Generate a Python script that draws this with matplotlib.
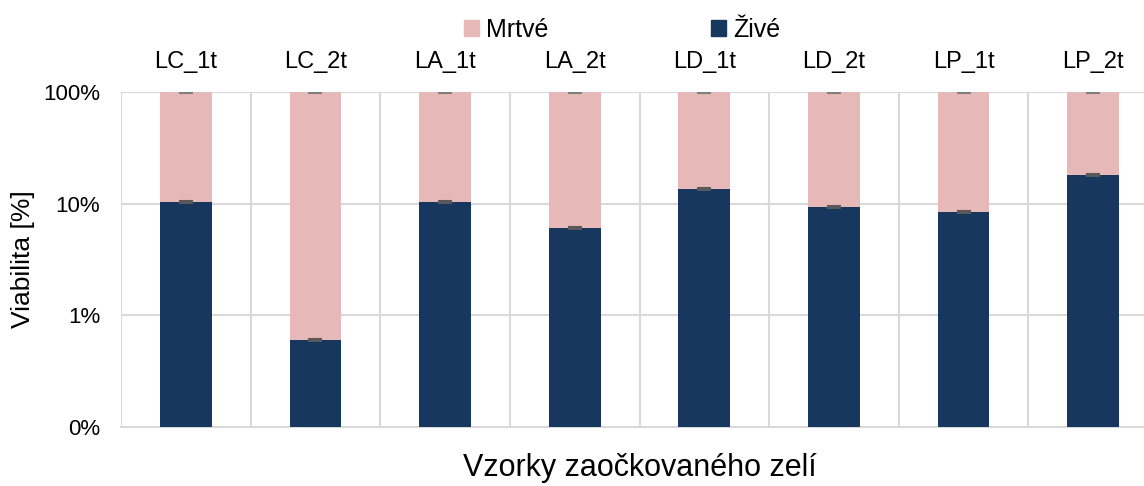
import matplotlib.pyplot as plt
from matplotlib.patches import Patch

plt.rcParams['font.family'] = ['Liberation Sans', 'DejaVu Sans']

# Data (percent of viable cells)
samples = ["LC_1t", "LC_2t", "LA_1t", "LA_2t", "LD_1t", "LD_2t", "LP_1t", "LP_2t"]
zive = [10.4, 0.60, 10.4, 6.05, 13.5, 9.3, 8.4, 18.1]
total = [100, 100, 100, 100, 100, 100, 100, 100]
zive_err = [0.25, 0.015, 0.25, 0.15, 0.33, 0.23, 0.2, 0.45]
total_err = [1.5, 1.5, 1.5, 1.5, 1.5, 1.5, 1.5, 1.5]

y_ticks = [0.1, 1, 10, 100]
y_ticklabels = ["0%", "1%", "10%", "100%"]

col_zive = "#17375E"
col_mrtve = "#E6B9B8"
grid_col = "#D9D9D9"

fig = plt.figure(figsize=(11.44, 4.86), dpi=100)
ax = fig.add_axes([121 / 1144, 59 / 486, 1037 / 1144, 335 / 486])

x = list(range(len(samples)))
mrtve = [t - z for t, z in zip(total, zive)]

ax.bar(x, zive, width=0.4, color=col_zive, bottom=0.001, zorder=3)
ax.bar(x, mrtve, width=0.4, bottom=zive, color=col_mrtve, zorder=3)

ax.errorbar(x, zive, yerr=zive_err, fmt="none", ecolor="#595959",
            elinewidth=1.5, capsize=5, capthick=1.5, zorder=4)
ax.errorbar(x, total, yerr=total_err, fmt="none", ecolor="#7F7F7F",
            elinewidth=1, capsize=5, capthick=1.5, zorder=4)

ax.set_yscale("log")
ax.set_ylim(0.1, 100)
ax.set_yticks(y_ticks)
ax.set_yticklabels(y_ticklabels)
ax.yaxis.set_minor_locator(plt.NullLocator())

ax.set_xlim(-0.5, len(samples) - 0.5)
ax.set_xticks(x)
ax.set_xticklabels(samples)
ax.xaxis.tick_top()
ax.tick_params(axis="x", length=0, pad=14, labelsize=17)
ax.tick_params(axis="y", length=0, pad=15, labelsize=16)

# gridlines
for b in range(len(samples) + 1):
    ax.axvline(b - 0.5, color=grid_col, lw=1.5, zorder=1)
for yt in [1, 10, 100]:
    ax.axhline(yt, color=grid_col, lw=1.5, zorder=1)

for s in ["top", "right", "left"]:
    ax.spines[s].set_visible(False)
ax.spines["bottom"].set_color(grid_col)
ax.spines["bottom"].set_linewidth(1.5)

ax.set_xlabel("Vzorky zaočkovaného zelí", fontsize=22, labelpad=19)
ax.xaxis.set_label_position("bottom")
ax.set_ylabel("Viabilita [%]", fontsize=19, labelpad=6)

handles = [Patch(color=col_mrtve, label="Mrtvé"), Patch(color=col_zive, label="Živé")]
fig.legend(handles=handles, loc="center", bbox_to_anchor=(622 / 1144, 1 - 30 / 486),
           ncol=2, frameon=False, fontsize=18, columnspacing=6.5,
           handlelength=0.6, handleheight=0.6, handletextpad=0.3)

fig.savefig("out.png", dpi=100)
